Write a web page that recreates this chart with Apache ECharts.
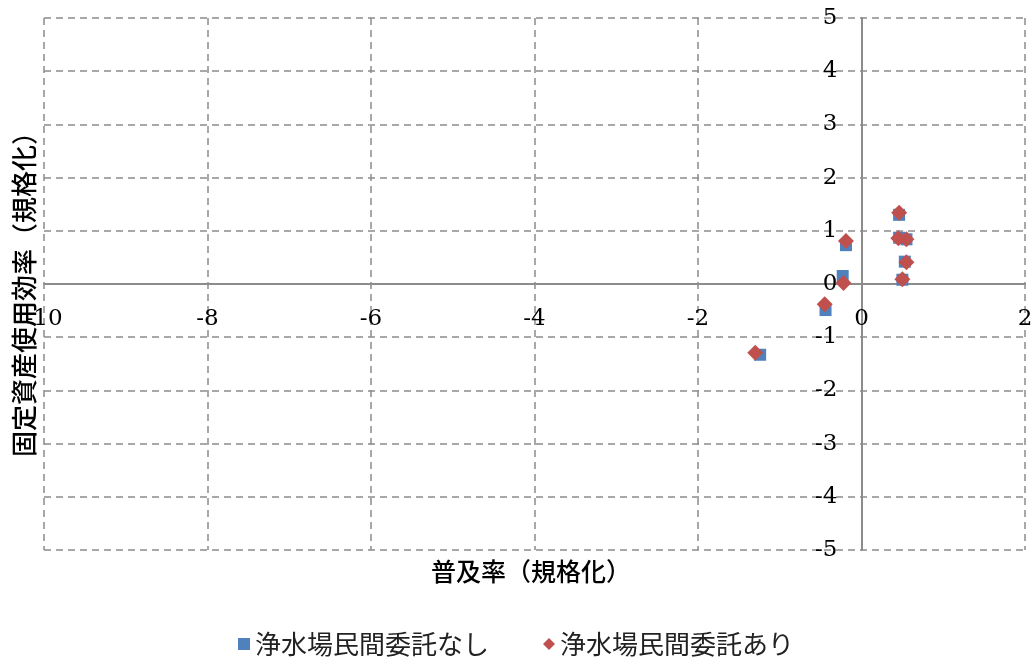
<!DOCTYPE html>
<html>
<head>
<meta charset="utf-8">
<script src="https://cdn.jsdelivr.net/npm/echarts@6/dist/echarts.min.js"></script>
<style>
  html, body { margin: 0; padding: 0; background: #fff; }
  #chart { width: 1032px; height: 659px; }
</style>
</head>
<body>
<div id="chart"></div>
<script>
// Normalised indicators per utility: x = penetration rate, y = fixed-asset efficiency
const seriesNames = ['浄水場民間委託なし', '浄水場民間委託あり'];
const noOutsourcing = [
  [-1.24, -1.33], [-0.44, -0.49], [-0.23, 0.15], [-0.19, 0.73],
  [0.46, 1.30], [0.46, 0.87], [0.55, 0.84], [0.53, 0.42], [0.50, 0.08]
];
const withOutsourcing = [
  [-1.30, -1.29], [-0.45, -0.38], [-0.22, 0.02], [-0.19, 0.81],
  [0.46, 1.34], [0.45, 0.86], [0.55, 0.84], [0.55, 0.41], [0.50, 0.09]
];
const xRange = [-10, 2];
const yRange = [-5, 5];
const xTitle = '普及率（規格化）';
const yTitle = '固定資産使用効率（規格化）';

const gridColor = '#8c8c8c';
const numFont = 'DejaVu Serif';
const cjkFont = 'Noto Sans CJK JP';

const grid = { left: 44, right: 7, top: 18, bottom: 109 };

function axisCommon() {
  return {
    type: 'value',
    axisLine: { onZero: false, lineStyle: { color: gridColor, width: 2 } },
    axisTick: { show: false },
    axisLabel: { margin: 24, color: '#000', fontFamily: numFont, fontSize: 23 },
    splitLine: { show: true, showMinLine: true, showMaxLine: true,
      lineStyle: { color: gridColor, type: [7, 5], width: 1.5 } }
  };
}

const chart = echarts.init(document.getElementById('chart'));
chart.setOption({
  animation: false,
  grid: Object.assign({ containLabel: false, outerBoundsMode: 'none' }, grid),
  xAxis: Object.assign(axisCommon(), { min: xRange[0], max: xRange[1], interval: 2, position: 'bottom' }),
  yAxis: Object.assign(axisCommon(), { min: yRange[0], max: yRange[1], interval: 1, position: 'left' }),
  legend: {
    bottom: -3, left: 'center', itemGap: 54, itemWidth: 12, itemHeight: 12,
    textStyle: { fontFamily: cjkFont, fontSize: 26, color: '#222' },
    data: [
      { name: seriesNames[0], icon: 'rect' },
      { name: seriesNames[1], icon: 'diamond' }
    ]
  },
  graphic: [
    { type: 'text', x: 531, y: 571,
      style: { text: xTitle, fontFamily: cjkFont, fontWeight: 500, fontSize: 25, fill: '#000',
        align: 'center', verticalAlign: 'middle' } },
    { type: 'text', rotation: Math.PI / 2, x: 24, y: 288,
      style: { text: yTitle, fontFamily: cjkFont, fontWeight: 500, fontSize: 26, fill: '#000',
        align: 'center', verticalAlign: 'middle' } }
  ],
  series: [
    { name: seriesNames[0], type: 'scatter', symbol: 'rect', symbolSize: 12,
      itemStyle: { color: '#4f81bd', opacity: 1 }, data: noOutsourcing },
    { name: seriesNames[1], type: 'scatter', symbol: 'diamond', symbolSize: 16,
      itemStyle: { color: '#c0504d', opacity: 1 }, data: withOutsourcing }
  ]
});

// Move both axes (line and labels) onto the zero crossing of the other axis.
const origin = chart.convertToPixel({ gridIndex: 0 }, [0, 0]);
const leftEdge = chart.convertToPixel({ xAxisIndex: 0 }, xRange[0]);
const bottomEdge = chart.convertToPixel({ yAxisIndex: 0 }, yRange[0]);
chart.setOption({
  xAxis: { offset: -(bottomEdge - origin[1]) },
  yAxis: { offset: -(origin[0] - leftEdge) }
});
</script>
</body>
</html>
